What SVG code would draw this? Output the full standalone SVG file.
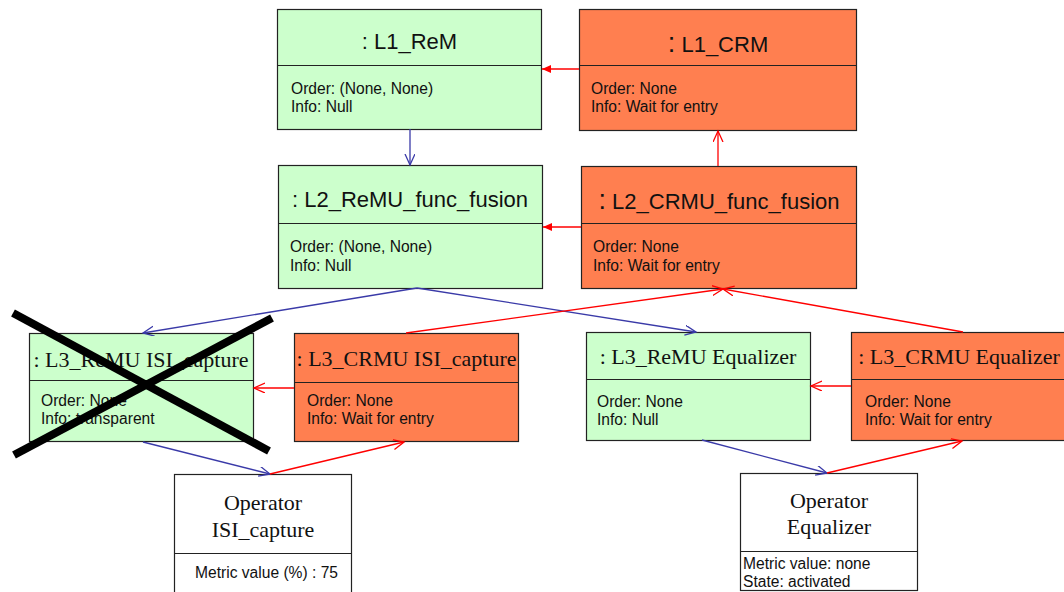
<svg xmlns="http://www.w3.org/2000/svg" width="1064" height="592" viewBox="0 0 1064 592">
<style>
.g{fill:#CCFFCC;stroke:#222;stroke-width:1.2}
.o{fill:#FF7F50;stroke:#222;stroke-width:1.2}
.w{fill:#fff;stroke:#222;stroke-width:1.2}
.d{stroke:#222;stroke-width:1.2}
.ts{font-family:"Liberation Sans",Arial,sans-serif;font-size:22px;fill:#111;text-anchor:middle}
.tr{font-family:"Liberation Serif","Times New Roman",serif;font-size:22px;fill:#111;text-anchor:middle}
.a{font-family:"Liberation Sans",Arial,sans-serif;font-size:15.6px;fill:#111}
.b{fill:none;stroke:#3A3AA8;stroke-width:1.3}
.r{fill:none;stroke:#FF0000;stroke-width:1.3}
.x{stroke:#000;stroke-width:8}
</style>
<defs>
<marker id="vb" markerUnits="userSpaceOnUse" markerWidth="14" markerHeight="14" refX="11" refY="5" orient="auto"><path d="M0,0 L11,5 L0,10" fill="none" stroke="#3A3AA8" stroke-width="1.3"/></marker>
<marker id="vr" markerUnits="userSpaceOnUse" markerWidth="14" markerHeight="14" refX="11" refY="5" orient="auto"><path d="M0,0 L11,5 L0,10" fill="none" stroke="#FF0000" stroke-width="1.3"/></marker>
<marker id="fr" markerUnits="userSpaceOnUse" markerWidth="12" markerHeight="12" refX="9" refY="4" orient="auto"><path d="M0,0 L9,4 L0,8 Z" fill="#FF0000"/></marker>
</defs>
<rect width="1064" height="592" fill="#fff"/>

<g id="L1_ReM">
<rect class="g" x="277.5" y="9.5" width="264" height="120"/>
<line class="d" x1="277.5" y1="65.5" x2="541.5" y2="65.5"/>
<text class="ts" x="409.5" y="49">: L1_ReM</text>
<text class="a" x="291" y="94">Order: (None, None)</text>
<text class="a" x="291" y="112">Info: Null</text>
</g>

<g id="L1_CRM">
<rect class="o" x="579.5" y="9.5" width="277" height="121"/>
<line class="d" x1="579.5" y1="65.5" x2="856.5" y2="65.5"/>
<text class="ts" x="718" y="52"><tspan font-size="27px">:</tspan> L1_CRM</text>
<text class="a" x="591" y="94">Order: None</text>
<text class="a" x="591" y="112">Info: Wait for entry</text>
</g>

<g id="L2_ReMU_func_fusion">
<rect class="g" x="278.5" y="165.5" width="264" height="123"/>
<line class="d" x1="278.5" y1="223.5" x2="542.5" y2="223.5"/>
<text class="ts" x="410" y="207">: L2_ReMU_func_fusion</text>
<text class="a" x="290" y="252">Order: (None, None)</text>
<text class="a" x="290" y="271">Info: Null</text>
</g>

<g id="L2_CRMU_func_fusion">
<rect class="o" x="581.5" y="166.5" width="275" height="122"/>
<line class="d" x1="581.5" y1="223.5" x2="856.5" y2="223.5"/>
<text class="ts" x="719" y="209"><tspan font-size="27px">:</tspan> L2_CRMU_func_fusion</text>
<text class="a" x="593" y="252">Order: None</text>
<text class="a" x="593" y="271">Info: Wait for entry</text>
</g>

<g id="L3_ReMU_ISI_capture">
<rect class="g" x="29.5" y="333.5" width="224" height="108"/>
<line class="d" x1="29.5" y1="380.5" x2="253.5" y2="380.5"/>
<text class="tr" x="141" y="367">: L3_ReMU ISI_capture</text>
<text class="a" x="41" y="406">Order: None</text>
<text class="a" x="41" y="424">Info: transparent</text>
</g>

<g id="L3_CRMU_ISI_capture">
<rect class="o" x="294.5" y="333.5" width="224" height="108"/>
<line class="d" x1="294.5" y1="382.5" x2="518.5" y2="382.5"/>
<text class="tr" x="406.5" y="366">: L3_CRMU ISI_capture</text>
<text class="a" x="307" y="406">Order: None</text>
<text class="a" x="307" y="424">Info: Wait for entry</text>
</g>

<g id="L3_ReMU_Equalizer">
<rect class="g" x="586.5" y="332.5" width="224" height="108"/>
<line class="d" x1="586.5" y1="379.5" x2="810.5" y2="379.5"/>
<text class="tr" x="698" y="364">: L3_ReMU Equalizer</text>
<text class="a" x="597" y="407">Order: None</text>
<text class="a" x="597" y="425">Info: Null</text>
</g>

<g id="L3_CRMU_Equalizer">
<rect class="o" x="851.5" y="332.5" width="220" height="108"/>
<line class="d" x1="851.5" y1="379.5" x2="1071.5" y2="379.5"/>
<text class="tr" x="959" y="364">: L3_CRMU Equalizer</text>
<text class="a" x="865" y="407">Order: None</text>
<text class="a" x="865" y="425">Info: Wait for entry</text>
</g>

<g id="Operator_ISI_capture">
<rect class="w" x="174.5" y="474.5" width="177" height="130"/>
<line class="d" x1="174.5" y1="553.5" x2="351.5" y2="553.5"/>
<text class="tr" x="263" y="510">Operator</text>
<text class="tr" x="263" y="537">ISI_capture</text>
<text class="a" x="195" y="578">Metric value (%) : 75</text>
</g>

<g id="Operator_Equalizer">
<rect class="w" x="740.5" y="473.5" width="177" height="117"/>
<line class="d" x1="740.5" y1="551.5" x2="917.5" y2="551.5"/>
<text class="tr" x="829" y="508">Operator</text>
<text class="tr" x="829" y="534">Equalizer</text>
<text class="a" x="743" y="569">Metric value: none</text>
<text class="a" x="743" y="587">State: activated</text>
</g>

<g id="connectors">
<line class="r" x1="579" y1="69" x2="542" y2="69" marker-end="url(#fr)"/>
<line class="r" x1="581" y1="227" x2="543" y2="227" marker-end="url(#fr)"/>
<line class="b" x1="410" y1="129" x2="410" y2="165" marker-end="url(#vb)"/>
<line class="r" x1="718" y1="166" x2="718" y2="131" marker-end="url(#vr)"/>
<line class="b" x1="417" y1="288" x2="143" y2="333" marker-end="url(#vb)"/>
<line class="b" x1="417" y1="288" x2="696" y2="332" marker-end="url(#vb)"/>
<line class="r" x1="406" y1="333" x2="723" y2="289" marker-end="url(#vr)"/>
<line class="r" x1="963" y1="332" x2="723" y2="289" marker-end="url(#vr)"/>
<line class="r" x1="294" y1="388" x2="254" y2="388" marker-end="url(#vr)"/>
<line class="r" x1="851" y1="386" x2="811" y2="386" marker-end="url(#vr)"/>
<line class="b" x1="143" y1="442" x2="270" y2="474" marker-end="url(#vb)"/>
<line class="r" x1="270" y1="474" x2="404" y2="442" marker-end="url(#vr)"/>
<line class="b" x1="702" y1="440" x2="827" y2="473" marker-end="url(#vb)"/>
<line class="r" x1="827" y1="473" x2="962" y2="441" marker-end="url(#vr)"/>
</g>

<g id="cross">
<line class="x" x1="13" y1="313" x2="269" y2="451"/>
<line class="x" x1="272" y1="318" x2="14" y2="455"/>
</g>
</svg>
